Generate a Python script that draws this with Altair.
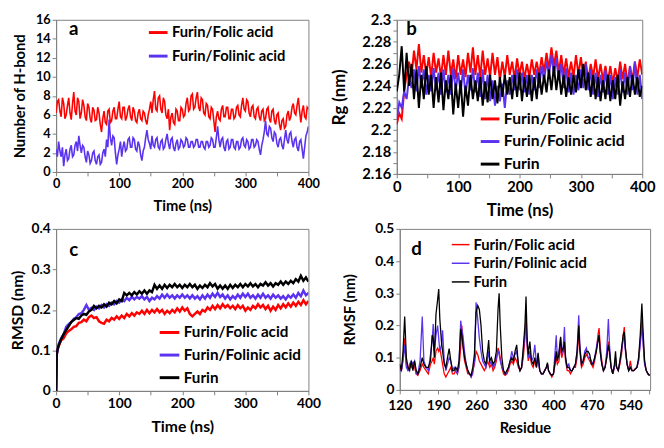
import altair as alt
import pandas as pd

RED = "#ff0000"
BLUE = "#5a32f0"
BLACK = "#000000"
FOLIC = "Furin/Folic acid"
FOLINIC = "Furin/Folinic acid"
FURIN = "Furin"

# ---------- panel a : H-bonds (every 2 ns) ----------
t_a = list(range(0, 401, 2))
hb_folic = [
    6.2, 7.4, 7.6, 6.4, 5.8, 7.8, 7.2, 5.6, 6.0, 7.0,
    7.8, 6.2, 5.5, 7.2, 8.4, 6.4, 6.0, 7.8, 7.4, 5.6,
    6.2, 7.6, 7.0, 5.8, 5.4, 7.2, 6.8, 5.6, 5.2, 6.8,
    6.5, 5.4, 5.5, 6.8, 6.2, 5.0, 4.2, 5.6, 6.4, 5.2,
    5.0, 6.4, 6.6, 5.2, 5.4, 6.4, 6.8, 5.6, 5.6, 6.6,
    7.4, 5.8, 5.6, 6.8, 6.8, 5.4, 5.8, 6.6, 7.0, 5.8,
    5.4, 6.8, 6.4, 5.4, 5.2, 6.2, 6.6, 5.6, 5.4, 6.4,
    6.2, 5.4, 5.0, 6.0, 6.6, 7.4, 6.2, 7.6, 8.5, 6.6,
    6.4, 7.8, 8.0, 6.6, 6.2, 7.8, 7.4, 6.0, 5.6, 6.6,
    4.4, 5.8, 6.2, 5.2, 5.0, 6.6, 6.4, 5.4, 5.4, 6.8,
    6.6, 5.8, 6.0, 7.2, 7.8, 6.4, 6.6, 8.0, 8.2, 6.6,
    6.8, 7.8, 8.4, 6.8, 6.4, 7.8, 7.6, 6.2, 6.0, 7.2,
    7.0, 5.8, 5.6, 6.8, 6.6, 5.4, 4.2, 5.8, 6.4, 5.6,
    5.4, 6.6, 7.0, 5.8, 5.8, 6.8, 6.8, 5.6, 5.6, 6.6,
    6.6, 5.6, 5.8, 6.8, 7.0, 6.0, 5.8, 7.0, 7.8, 6.6,
    6.4, 7.6, 7.4, 6.2, 5.8, 6.8, 7.0, 5.8, 5.6, 6.6,
    6.8, 5.8, 5.4, 6.4, 6.6, 5.4, 5.6, 6.6, 6.8, 5.6,
    5.2, 6.4, 6.6, 5.4, 5.0, 6.0, 6.2, 5.0, 4.4, 5.4,
    5.6, 4.6, 4.8, 6.0, 6.4, 5.4, 5.8, 6.8, 7.2, 6.2,
    6.0, 7.0, 7.8, 6.4, 5.2, 6.4, 7.0, 5.8, 5.6, 6.8,
    6.6]
hb_folinic = [
    2.4, 1.6, 3.2, 2.2, 1.6, 2.6, 0.6, 1.8, 2.4, 1.2,
    1.4, 2.4, 2.8, 1.6, 1.8, 2.8, 3.2, 2.2, 3.8, 2.8,
    2.0, 2.8, 2.6, 1.6, 1.0, 2.2, 1.8, 0.9, 1.2, 2.0,
    2.2, 1.2, 0.8, 1.6, 1.8, 0.8, 1.0, 2.0, 2.4, 1.6,
    3.4, 2.6, 5.5, 3.6, 2.8, 3.8, 3.6, 2.0, 0.8, 1.8,
    2.4, 3.2, 1.6, 2.6, 3.2, 2.2, 2.4, 3.4, 3.6, 2.6,
    2.6, 3.6, 3.4, 2.4, 2.2, 3.2, 2.8, 1.8, 1.2, 2.2,
    2.6, 3.6, 4.4, 3.4, 3.0, 2.4, 3.8, 2.8, 2.6, 3.4,
    3.6, 2.6, 2.4, 3.2, 3.4, 2.4, 2.6, 3.4, 4.0, 3.0,
    2.4, 3.4, 3.6, 2.6, 2.2, 3.0, 3.4, 2.4, 2.6, 3.4,
    3.2, 2.6, 2.8, 3.6, 3.4, 2.6, 2.6, 3.2, 3.2, 2.6,
    2.8, 3.4, 3.4, 2.6, 2.6, 3.2, 3.2, 2.6, 2.4, 3.2,
    3.2, 2.6, 2.8, 3.6, 3.4, 2.6, 2.6, 3.6, 4.8, 3.4,
    2.6, 3.4, 3.6, 2.6, 2.2, 3.2, 3.4, 2.4, 2.6, 3.4,
    3.4, 2.6, 2.4, 3.2, 3.2, 2.4, 2.6, 3.4, 3.6, 2.8,
    2.6, 3.4, 3.2, 2.4, 2.6, 3.4, 3.4, 2.6, 2.8, 3.4,
    3.2, 2.4, 1.8, 2.8, 3.4, 4.2, 5.4, 4.0, 3.8, 4.8,
    4.6, 3.6, 3.2, 4.2, 4.0, 3.0, 2.6, 3.4, 3.6, 2.8,
    2.4, 3.4, 4.4, 3.4, 3.0, 4.0, 4.2, 3.2, 2.6, 3.4,
    3.6, 2.6, 2.2, 3.2, 3.4, 2.4, 1.4, 2.6, 3.8, 4.2,
    4.8]

# ---------- panel b : Rg (every 4 ns) ----------
t_b = list(range(0, 401, 4))
rg_folic = [
    2.205, 2.215, 2.21, 2.235, 2.25, 2.262, 2.248, 2.272, 2.255, 2.278,
    2.252, 2.268, 2.25, 2.266, 2.248, 2.27, 2.252, 2.265, 2.248, 2.268,
    2.25, 2.272, 2.25, 2.264, 2.246, 2.268, 2.25, 2.264, 2.248, 2.27,
    2.252, 2.275, 2.25, 2.268, 2.248, 2.272, 2.25, 2.265, 2.248, 2.27,
    2.25, 2.266, 2.245, 2.262, 2.248, 2.268, 2.25, 2.262, 2.246, 2.265,
    2.25, 2.262, 2.246, 2.26, 2.248, 2.264, 2.25, 2.262, 2.25, 2.266,
    2.252, 2.27, 2.255, 2.275, 2.258, 2.272, 2.252, 2.268, 2.25, 2.265,
    2.248, 2.262, 2.248, 2.268, 2.25, 2.266, 2.248, 2.262, 2.245, 2.26,
    2.248, 2.264, 2.246, 2.26, 2.245, 2.258, 2.244, 2.258, 2.242, 2.256,
    2.244, 2.262, 2.246, 2.26, 2.242, 2.258, 2.245, 2.262, 2.248, 2.264,
    2.25]
rg_folinic = [
    2.21, 2.225, 2.22, 2.235, 2.228, 2.248, 2.238, 2.255, 2.235, 2.258,
    2.238, 2.255, 2.232, 2.25, 2.235, 2.256, 2.236, 2.252, 2.232, 2.255,
    2.234, 2.25, 2.232, 2.256, 2.236, 2.252, 2.234, 2.255, 2.232, 2.25,
    2.236, 2.256, 2.234, 2.252, 2.23, 2.255, 2.228, 2.25, 2.226, 2.245,
    2.222, 2.24, 2.226, 2.242, 2.22, 2.245, 2.232, 2.25, 2.236, 2.255,
    2.236, 2.252, 2.234, 2.25, 2.232, 2.25, 2.236, 2.255, 2.238, 2.258,
    2.245, 2.262, 2.25, 2.268, 2.25, 2.265, 2.245, 2.26, 2.238, 2.256,
    2.234, 2.252, 2.232, 2.25, 2.236, 2.255, 2.238, 2.26, 2.236, 2.255,
    2.232, 2.252, 2.23, 2.25, 2.234, 2.254, 2.232, 2.25, 2.228, 2.248,
    2.232, 2.255, 2.234, 2.252, 2.232, 2.258, 2.236, 2.262, 2.232, 2.25,
    2.228]
rg_furin = [
    2.235, 2.25, 2.276, 2.235, 2.27, 2.24, 2.26, 2.228, 2.255, 2.22,
    2.25, 2.228, 2.258, 2.232, 2.25, 2.22, 2.248, 2.225, 2.252, 2.218,
    2.245, 2.228, 2.25, 2.214, 2.242, 2.22, 2.245, 2.212, 2.24, 2.222,
    2.25, 2.228, 2.245, 2.226, 2.248, 2.222, 2.244, 2.225, 2.25, 2.228,
    2.245, 2.224, 2.248, 2.23, 2.25, 2.232, 2.248, 2.228, 2.25, 2.23,
    2.252, 2.226, 2.248, 2.23, 2.25, 2.226, 2.248, 2.228, 2.252, 2.232,
    2.25, 2.234, 2.255, 2.236, 2.258, 2.236, 2.254, 2.232, 2.25, 2.23,
    2.248, 2.232, 2.25, 2.234, 2.255, 2.238, 2.26, 2.236, 2.252, 2.23,
    2.25, 2.228, 2.248, 2.226, 2.245, 2.228, 2.25, 2.226, 2.245, 2.228,
    2.25, 2.222, 2.244, 2.228, 2.248, 2.23, 2.25, 2.232, 2.248, 2.23,
    2.24]

# ---------- panel c : RMSD ----------
t_c = [0, 1, 2] + list(range(4, 401, 4))
rmsd_folic = [
    0.0, 0.09, 0.10,
    0.11, 0.125, 0.13, 0.142, 0.148, 0.152, 0.158, 0.16, 0.168, 0.17,
    0.176, 0.172, 0.182, 0.186, 0.18, 0.182, 0.172, 0.168, 0.166, 0.176,
    0.172, 0.18, 0.176, 0.184, 0.178, 0.186, 0.18, 0.19, 0.184, 0.192,
    0.186, 0.194, 0.19, 0.198, 0.19, 0.2, 0.192, 0.2, 0.194, 0.202,
    0.194, 0.2, 0.19, 0.198, 0.192, 0.2, 0.194, 0.204, 0.196, 0.206,
    0.198, 0.204, 0.19, 0.184, 0.19, 0.196, 0.19, 0.2, 0.196, 0.206,
    0.2, 0.21, 0.202, 0.212, 0.204, 0.214, 0.206, 0.212, 0.204, 0.21,
    0.202, 0.212, 0.204, 0.21, 0.198, 0.206, 0.2, 0.21, 0.204, 0.214,
    0.206, 0.212, 0.202, 0.21, 0.198, 0.208, 0.2, 0.212, 0.204, 0.214,
    0.206, 0.216, 0.208, 0.218, 0.21, 0.22, 0.212, 0.224, 0.214, 0.222]
rmsd_folinic = [
    0.0, 0.09, 0.10,
    0.115, 0.13, 0.14, 0.158, 0.165, 0.17, 0.178, 0.182, 0.19, 0.192,
    0.2, 0.212, 0.2, 0.205, 0.2, 0.208, 0.204, 0.212, 0.206, 0.214,
    0.21, 0.218, 0.214, 0.222, 0.218, 0.226, 0.222, 0.23, 0.224, 0.232,
    0.226, 0.232, 0.228, 0.234, 0.226, 0.232, 0.222, 0.23, 0.226, 0.234,
    0.228, 0.238, 0.23, 0.238, 0.23, 0.236, 0.228, 0.236, 0.23, 0.238,
    0.23, 0.236, 0.228, 0.236, 0.228, 0.234, 0.226, 0.236, 0.228, 0.238,
    0.23, 0.24, 0.232, 0.242, 0.232, 0.238, 0.228, 0.236, 0.226, 0.234,
    0.228, 0.238, 0.23, 0.24, 0.232, 0.24, 0.23, 0.236, 0.228, 0.238,
    0.23, 0.24, 0.23, 0.236, 0.228, 0.238, 0.23, 0.236, 0.228, 0.234,
    0.226, 0.236, 0.23, 0.238, 0.23, 0.242, 0.234, 0.248, 0.236, 0.242]
rmsd_furin = [
    0.0, 0.09, 0.10,
    0.112, 0.128, 0.14, 0.15, 0.16, 0.17, 0.175, 0.18, 0.178, 0.186,
    0.19, 0.188, 0.196, 0.2, 0.21, 0.204, 0.21, 0.206, 0.214, 0.208,
    0.218, 0.214, 0.222, 0.216, 0.226, 0.222, 0.242, 0.236, 0.242, 0.236,
    0.244, 0.238, 0.246, 0.24, 0.248, 0.24, 0.248, 0.244, 0.262, 0.252,
    0.26, 0.252, 0.262, 0.254, 0.262, 0.256, 0.264, 0.256, 0.262, 0.254,
    0.262, 0.256, 0.264, 0.256, 0.262, 0.252, 0.26, 0.254, 0.262, 0.256,
    0.266, 0.258, 0.264, 0.252, 0.26, 0.252, 0.26, 0.252, 0.262, 0.254,
    0.262, 0.256, 0.264, 0.256, 0.264, 0.258, 0.266, 0.258, 0.264, 0.256,
    0.264, 0.26, 0.268, 0.26, 0.266, 0.258, 0.266, 0.262, 0.27, 0.262,
    0.27, 0.264, 0.272, 0.266, 0.276, 0.27, 0.284, 0.272, 0.28, 0.27]

# ---------- panel d : RMSF ----------
residue = [
    120, 123, 126, 129, 132, 135, 138, 141, 144, 147,
    150, 153, 157, 161, 164, 168, 172, 176, 179, 181,
    183, 186, 189, 191, 193, 196, 198, 201, 204, 207,
    210, 213, 216, 219, 222, 225, 228, 231, 233, 235,
    238, 241, 244, 247, 250, 253, 256, 259, 262, 265,
    268, 271, 274, 277, 280, 282, 284, 287, 290, 293,
    296, 299, 301, 303, 306, 309, 312, 315, 318, 321,
    324, 327, 330, 333, 336, 339, 342, 345, 348, 350,
    352, 354, 357, 360, 363, 366, 369, 372, 375, 378,
    381, 384, 387, 389, 391, 394, 397, 400, 403, 405,
    407, 410, 413, 415, 418, 420, 422, 425, 428, 431,
    434, 437, 440, 443, 446, 448, 451, 454, 457, 460,
    463, 466, 469, 472, 475, 478, 481, 483, 485, 488,
    491, 494, 497, 500, 502, 505, 508, 511, 513, 515,
    518, 521, 524, 527, 529, 531, 534, 537, 540, 543,
    546, 549, 552, 555, 558, 561, 563, 566, 569, 572,
    575]
rmsf_folic = [
    .07, .06, .10, .16, .08, .06, .08, .07, .08, .07,
    .05, .045, .06, .08, .07, .06, .05, .08, .09, .10,
    .08, .12, .13, .12, .13, .10, .08, .05, .04, .05,
    .06, .07, .05, .05, .06, .05, .07, .13, .20, .14,
    .09, .07, .05, .05, .04, .06, .08, .12, .11, .09,
    .08, .07, .06, .07, .09, .08, .07, .08, .06, .07,
    .09, .13, .12, .10, .07, .05, .045, .05, .06, .08,
    .09, .08, .10, .09, .07, .06, .07, .10, .16, .24,
    .14, .09, .11, .08, .07, .09, .07, .11, .06, .05,
    .05, .06, .07, .08, .06, .05, .04, .05, .08, .10,
    .08, .09, .14, .10, .12, .14, .09, .06, .06, .05,
    .06, .07, .07, .10, .18, .12, .07, .08, .10, .11,
    .10, .09, .08, .07, .09, .12, .17, .192, .14, .09,
    .06, .07, .10, .15, .11, .07, .05, .07, .09, .07,
    .06, .08, .11, .17, .195, .13, .08, .06, .09, .06,
    .06, .065, .07, .09, .15, .22, .16, .08, .06, .05,
    .045]
rmsf_folinic = [
    .06, .06, .09, .14, .07, .06, .07, .09, .08, .09,
    .05, .05, .09, .228, .09, .07, .06, .11, .15, .205,
    .12, .17, .20, .16, .12, .14, .185, .09, .06, .08,
    .10, .09, .06, .07, .06, .05, .08, .215, .19, .17,
    .12, .08, .06, .05, .04, .05, .09, .272, .22, .16,
    .12, .09, .08, .07, .10, .12, .08, .09, .07, .08,
    .10, .12, .11, .09, .07, .06, .05, .05, .07, .09,
    .12, .10, .11, .12, .08, .06, .07, .12, .18, .20,
    .14, .10, .12, .09, .10, .14, .08, .09, .06, .05,
    .05, .06, .07, .08, .06, .05, .045, .05, .12, .17,
    .10, .12, .16, .11, .14, .195, .10, .07, .08, .06,
    .06, .07, .08, .12, .232, .14, .08, .09, .12, .13,
    .10, .10, .09, .08, .10, .13, .16, .17, .12, .08,
    .06, .07, .12, .22, .14, .07, .05, .07, .10, .07,
    .06, .09, .12, .16, .16, .12, .08, .06, .07, .06,
    .06, .065, .07, .09, .14, .20, .15, .08, .06, .05,
    .045]
rmsf_furin = [
    .08, .06, .12, .228, .10, .07, .06, .09, .06, .09,
    .06, .05, .07, .10, .08, .07, .07, .09, .17, .16,
    .10, .235, .28, .313, .22, .15, .12, .08, .07, .10,
    .128, .09, .06, .06, .07, .06, .09, .19, .17, .14,
    .10, .08, .06, .05, .045, .07, .11, .24, .262, .25,
    .20, .12, .09, .08, .12, .155, .09, .10, .08, .09,
    .12, .25, .30, .20, .10, .06, .05, .06, .07, .09,
    .10, .09, .12, .14, .08, .06, .07, .13, .20, .29,
    .16, .11, .15, .09, .08, .10, .07, .115, .06, .05,
    .05, .06, .07, .085, .06, .05, .045, .05, .09, .12,
    .09, .11, .165, .12, .13, .15, .10, .07, .07, .06,
    .06, .07, .08, .12, .20, .13, .08, .09, .11, .12,
    .12, .11, .08, .08, .10, .12, .15, .17, .12, .08,
    .06, .07, .10, .14, .12, .07, .05, .08, .12, .07,
    .06, .09, .13, .17, .18, .13, .08, .06, .07, .06,
    .06, .065, .07, .10, .17, .268, .19, .09, .06, .05,
    .045]

FONT = "Lato"


def long_df(parts):
    rows = []
    for name, xs, ys in parts:
        for xv, yv in zip(xs, ys):
            rows.append({"x": xv, "y": yv, "series": name})
    return pd.DataFrame(rows)


def panel(parts, colors, xdom, ydom, xticks, xlab, yticks, ylab,
          xtitle, ytitle, w, h, sw, lfs, tfs, ytp, leg, letter, lxy, xlp=2):
    series = [p[0] for p in parts]
    df = long_df(parts)
    cscale = alt.Scale(domain=series, range=colors)
    legend = alt.Legend(
        orient="none", legendX=leg[0], legendY=leg[1], title=None,
        symbolType="stroke", symbolSize=leg[2] ** 2,
        symbolStrokeWidth=leg[3], labelFont=FONT, labelFontWeight="bold",
        labelFontSize=leg[4], labelColor="black", labelLimit=300,
        rowPadding=leg[5], labelOffset=3, symbolOpacity=1)
    xax = alt.Axis(values=xticks, labelExpr=xlab, title=xtitle,
                   labelFontSize=lfs, titleFontSize=tfs, titlePadding=8,
                   labelOverlap=False, labelFlush=False, labelPadding=xlp)
    yax = alt.Axis(values=yticks, labelExpr=ylab, title=ytitle,
                   labelFontSize=lfs, titleFontSize=tfs, titlePadding=ytp,
                   labelOverlap=False)
    layers = []
    for s in series:
        layers.append(
            alt.Chart(df).transform_filter(alt.datum.series == s)
            .mark_line(strokeWidth=sw, clip=True)
            .encode(
                x=alt.X("x:Q", scale=alt.Scale(domain=xdom, nice=False, zero=False), axis=xax),
                y=alt.Y("y:Q", scale=alt.Scale(domain=ydom, nice=False, zero=False), axis=yax),
                color=alt.Color("series:N", scale=cscale, legend=legend),
            )
        )
    txt = alt.Chart(pd.DataFrame({"t": [letter]})).mark_text(
        font=FONT, fontWeight="bold", fontSize=19, align="center",
        baseline="middle", color="black"
    ).encode(text="t:N", x=alt.value(lxy[0]), y=alt.value(lxy[1]))
    return alt.layer(*layers, txt).properties(width=w, height=h)


t_ticks = list(range(0, 401, 50))
t_lab = "datum.value % 100 == 0 ? datum.label : ''"

pa = panel(
    [(FOLIC, t_a, hb_folic), (FOLINIC, t_a, hb_folinic)], [RED, BLUE],
    [0, 400], [0, 16], t_ticks, t_lab, list(range(0, 17, 2)), "datum.label",
    "Time (ns)", "Number of H-bond", 257, 155, 1.6, 13, 15, 8,
    (93, 2, 19, 3, 15, 5), "a", (18, 9))

pb = panel(
    [(FOLIC, t_b, rg_folic), (FOLINIC, t_b, rg_folinic), (FURIN, t_b, rg_furin)],
    [RED, BLUE, BLACK],
    [0, 400], [2.16, 2.30], t_ticks, t_lab,
    [2.16, 2.17, 2.18, 2.19, 2.20, 2.21, 2.22, 2.23, 2.24, 2.25, 2.26, 2.27, 2.28, 2.29, 2.30],
    "round(datum.value * 100) % 2 == 0 ? format(datum.value, '.2~f') : ''",
    "Time (ns)", "Rg (nm)", 250, 157, 2.0, 15, 17, 14,
    (84, 90, 19, 3, 16, 4), "b", (15, 10))

pc = panel(
    [(FOLIC, t_c, rmsd_folic), (FOLINIC, t_c, rmsd_folinic), (FURIN, t_c, rmsd_furin)],
    [RED, BLUE, BLACK],
    [0, 400], [0, 0.4], t_ticks, t_lab, [0, 0.1, 0.2, 0.3, 0.4],
    "format(datum.value, '.1~f')",
    "Time (ns)", "RMSD (nm)", 257, 165, 2.5, 14, 16, 6,
    (104, 94, 20, 3, 15.5, 3), "c", (18, 22))

pd_ = panel(
    [(FOLIC, residue, rmsf_folic), (FOLINIC, residue, rmsf_folinic), (FURIN, residue, rmsf_furin)],
    [RED, BLUE, BLACK],
    [120, 576], [0, 0.5], list(range(120, 576, 35)),
    "(datum.value - 120) % 70 == 0 ? datum.label : ''",
    [0, 0.1, 0.2, 0.3, 0.4, 0.5], "format(datum.value, '.1~f')",
    "Residue", "RMSF (nm)", 255, 164, 1.3, 14, 15, 18,
    (52, 6, 18, 1.5, 15, 1), "d", (17, 21), xlp=5)

row1 = alt.hconcat(pa, pb, spacing=9).resolve_scale(color="independent", x="independent", y="independent")
row2 = alt.hconcat(pc, pd_, spacing=20).resolve_scale(color="independent", x="independent", y="independent")

chart = alt.vconcat(row1, row2, spacing=2).resolve_scale(
    color="independent", x="independent", y="independent"
).properties(
    padding={"left": 0, "top": 0, "right": 0, "bottom": 0}
).configure_axis(
    labelFont=FONT, labelFontWeight="bold", labelColor="black",
    titleFont=FONT, titleFontWeight="bold", titleColor="black",
    grid=False, domainColor="#7f7f7f", tickColor="#7f7f7f", tickSize=4,
    labelPadding=2,
).configure_view(stroke="#7f7f7f", strokeWidth=1)

chart.save("out.html", embed_options={"renderer": "svg", "actions": False})
